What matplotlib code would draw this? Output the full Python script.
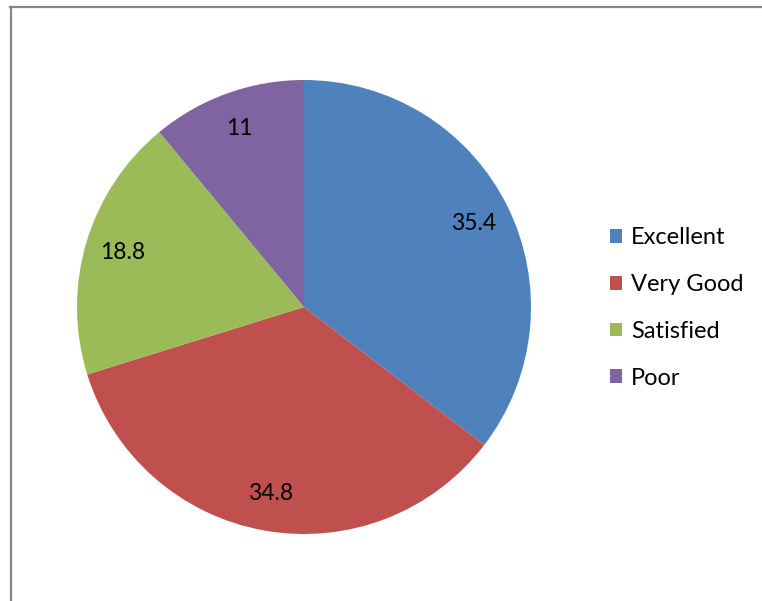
import matplotlib
matplotlib.use("Agg")
import matplotlib.pyplot as plt
from matplotlib.lines import Line2D
from matplotlib.patches import Patch
import numpy as np

categories = ["Excellent", "Very Good", "Satisfied", "Poor"]
values = [35.4, 34.8, 18.8, 11]
value_labels = ["35.4", "34.8", "18.8", "11"]
colors = ["#4F81BD", "#C0504D", "#9BBB59", "#8064A2"]

plt.rcParams['font.family'] = ['Lato', 'DejaVu Sans']

W, H = 762, 601
fig = plt.figure(figsize=(W / 100, H / 100), dpi=100)
fig.patch.set_facecolor("white")

cx, cy, r = 304, 307, 227
ax = fig.add_axes([(cx - r) / W, (H - cy - r) / H, 2 * r / W, 2 * r / H])

wedges, _ = ax.pie(values, colors=colors, startangle=90, counterclock=False,
                   radius=1.0, wedgeprops=dict(linewidth=0))
for w, lab in zip(wedges, value_labels):
    ang = np.deg2rad((w.theta1 + w.theta2) / 2)
    ax.text(0.835 * np.cos(ang), 0.835 * np.sin(ang), lab, ha="center", va="center",
            fontsize=16.5, color="black")
ax.set_xlim(-1, 1)
ax.set_ylim(-1, 1)
ax.set_aspect("auto")
ax.axis("off")

handles = [Patch(facecolor=c, edgecolor="none") for c in colors]
fig.legend(handles, categories, loc="center left",
           bbox_to_anchor=(610 / W, 1 - 308 / H), frameon=False,
           fontsize=17, handlelength=0.52, handleheight=0.52,
           handletextpad=0.36, labelspacing=1.09, borderpad=0, borderaxespad=0)

# chart frame (only top and left visible)
fig.add_artist(Line2D([10.5 / W, 10.5 / W], [0, 1 - 6.5 / H], color="#868686", linewidth=1.6))
fig.add_artist(Line2D([10 / W, 1], [1 - 6.5 / H, 1 - 6.5 / H], color="#868686", linewidth=1.6))

fig.savefig("out.png", dpi=100, facecolor="white")
